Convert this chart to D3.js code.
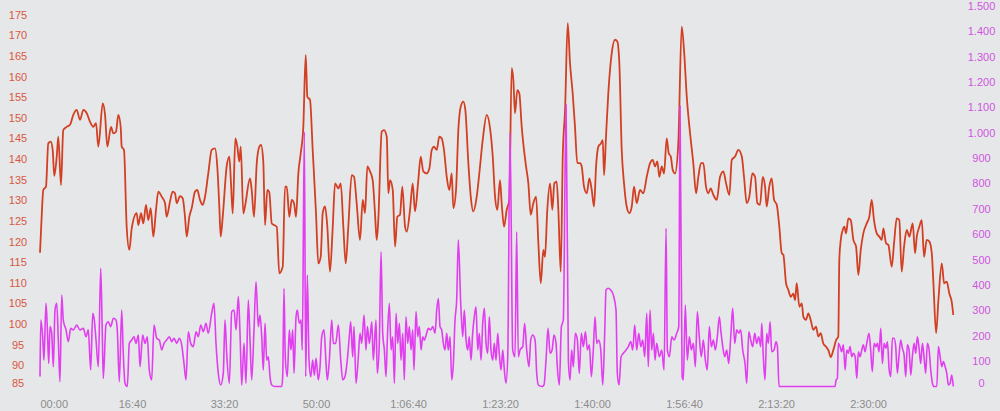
<!DOCTYPE html>
<html>
<head>
<meta charset="utf-8">
<script src="https://cdn.jsdelivr.net/npm/d3@7"></script>
<style>
html,body{margin:0;padding:0;background:#e6e7e9;}
svg{display:block;font-family:"Liberation Sans",Arial,Helvetica,sans-serif;}
</style>
</head>
<body>
<svg id="chart" width="1000" height="411"></svg>
<script>
// Heart rate [seconds, bpm]
const heartRate = [[0,117.3],[18,126],[36,132.5],[65,133.3],[90,143.8],[116,144.2],[138,142.2],[155,135.9],[182,140.6],[199,145.4],[228,133.7],[253,147],[290,147.8],[326,148.3],[362,150.7],[399,151.9],[435,149.5],[471,151.9],[508,151.1],[544,149],[579,147.8],[609,148.7],[634,143],[682,153.5],[707,150.7],[732,143],[772,147.8],[797,146.2],[826,146.6],[851,150.7],[877,147.8],[888,143],[913,142.2],[942,123.6],[971,118],[997,123.2],[1051,126.9],[1069,124],[1098,126.9],[1123,124.4],[1152,128.9],[1177,125.2],[1203,128.1],[1232,121.2],[1261,127.7],[1286,132.1],[1323,130.9],[1359,129.3],[1377,126],[1413,129.7],[1442,132.1],[1467,131.7],[1486,129.3],[1522,131],[1551,130.5],[1576,126],[1595,121.2],[1623,126],[1649,128.1],[1685,132.1],[1710,132.5],[1739,130.1],[1769,128.9],[1794,130.9],[1829,136.5],[1866,142.2],[1902,142.6],[1927,138.2],[1949,128.5],[1964,121.2],[1986,126],[2029,138.2],[2058,140.6],[2076,134.1],[2095,126.8],[2123,145],[2145,143],[2166,139.4],[2182,143],[2210,126.8],[2228,128.5],[2283,135.3],[2301,132.5],[2326,126],[2356,139],[2384,143],[2402,143.4],[2427,139.4],[2446,124],[2471,132.5],[2492,132],[2519,124.4],[2544,124],[2573,123.6],[2601,112.3],[2638,113.9],[2663,133.3],[2682,133.3],[2710,126],[2736,130.1],[2761,129.3],[2783,126],[2808,136.5],[2834,141.4],[2862,147.8],[2888,165.2],[2906,155.1],[2935,154.3],[2964,142.2],[3000,126.9],[3025,114.7],[3051,116.3],[3073,126.9],[3098,128.5],[3123,123.6],[3152,112.7],[3182,123.6],[3207,134.1],[3243,132.9],[3269,134.1],[3297,123.6],[3323,114.7],[3351,123.6],[3388,136.1],[3413,135.7],[3442,129.3],[3478,120.4],[3508,130.1],[3533,126.9],[3558,138.2],[3587,137],[3616,134.9],[3641,126.9],[3660,120.4],[3677,125.2],[3714,146.6],[3739,147],[3769,145.4],[3786,131.7],[3805,134.9],[3834,132.5],[3859,118.8],[3884,126],[3913,126.5],[3938,133.3],[3968,123.6],[3986,122.4],[4022,127.7],[4051,134.1],[4076,127.3],[4112,134.9],[4138,140.6],[4166,137],[4203,136.5],[4232,137.7],[4258,142.2],[4283,143],[4312,142.2],[4340,145.4],[4366,145],[4391,142.2],[4421,135.7],[4449,132.5],[4475,136.5],[4493,128.1],[4522,132.5],[4547,147],[4573,152.7],[4601,153.9],[4623,151.9],[4656,139],[4682,130.9],[4710,127.3],[4747,130.9],[4775,136.5],[4812,144.6],[4856,150.7],[4892,147.4],[4921,140.6],[4946,130.9],[4971,127.7],[5000,134.9],[5019,129],[5044,123.6],[5073,127.7],[5101,130.1],[5127,162],[5145,159.2],[5163,151.1],[5188,156.7],[5210,155.9],[5236,147.8],[5253,143.8],[5283,138.2],[5308,134.1],[5334,126.5],[5362,129.3],[5392,130.9],[5417,119.6],[5443,109.9],[5471,118],[5489,116.3],[5514,127.7],[5544,134.1],[5569,127.7],[5590,134.1],[5616,134.5],[5634,127.7],[5660,112.7],[5682,140.6],[5707,151.9],[5736,172.9],[5761,163.2],[5790,155.9],[5815,147.8],[5840,139],[5870,139],[5888,138.2],[5913,133.3],[5943,131.7],[5971,135.3],[5997,132.5],[6022,128.5],[6044,138.2],[6069,143],[6098,143.8],[6117,144.6],[6131,136.1],[6152,145.4],[6177,155.9],[6214,165.6],[6250,168.9],[6275,168.5],[6297,163.2],[6323,142.2],[6348,134.1],[6377,128.5],[6406,126.9],[6432,128.5],[6457,133.3],[6486,129.3],[6522,132.5],[6558,131.7],[6595,135.7],[6631,139],[6660,139.8],[6685,138.2],[6710,139.4],[6732,135.7],[6758,138.2],[6783,136.5],[6812,145],[6834,141.4],[6856,140.6],[6877,137.4],[6902,136.5],[6938,143.8],[6975,172.1],[7000,166.4],[7030,155.1],[7066,146.2],[7101,139],[7131,131.7],[7156,135.7],[7185,139],[7210,139],[7239,133.3],[7264,131.7],[7290,132.9],[7319,131.3],[7356,130.1],[7392,135.7],[7428,137],[7457,134.1],[7493,131.3],[7519,139.8],[7555,140.6],[7591,142.2],[7628,140.6],[7652,135.7],[7682,129.3],[7710,130.9],[7743,136.5],[7772,135.7],[7797,129.3],[7826,128.9],[7856,135.7],[7881,133.3],[7899,128.5],[7927,133.3],[7953,135.3],[7979,130.1],[8008,128.9],[8036,123.6],[8062,117.2],[8080,116.8],[8109,109.9],[8134,108.3],[8160,106.6],[8188,107.4],[8207,105.8],[8225,109.9],[8254,104.2],[8280,105],[8297,101.8],[8326,101],[8351,102.6],[8377,101],[8406,98.6],[8435,99.4],[8460,97],[8486,97.8],[8514,95.3],[8544,94.5],[8569,93.7],[8595,92],[8623,93.7],[8653,96.1],[8677,97],[8688,115.5],[8704,120.4],[8725,122.8],[8743,123.6],[8761,122],[8786,125.6],[8812,125.2],[8841,120.4],[8870,118.8],[8895,111.9],[8921,118],[8949,122],[8986,124.4],[9014,126],[9040,130.1],[9065,125.2],[9095,122],[9123,121.2],[9149,120.4],[9167,123.2],[9196,119.6],[9221,119.2],[9258,113.9],[9283,119.6],[9312,125.6],[9340,125.2],[9366,112.7],[9392,118.8],[9421,122.8],[9449,121.2],[9486,124.4],[9511,117.2],[9530,121.2],[9558,123.6],[9584,125.2],[9609,116.3],[9638,120.4],[9667,120],[9693,117.2],[9711,109.9],[9740,97.8],[9765,105.8],[9802,114.7],[9827,109.9],[9856,110.3],[9884,107.4],[9910,105.4],[9927,102.2]];

// Power [seconds, watts]
const power = [[0,39],[8,262],[29,196],[43,104],[65,328],[79,236],[95,91],[109,236],[127,210],[145,78],[163,301],[182,328],[199,183],[217,19],[236,360],[253,262],[283,223],[308,177],[334,229],[362,223],[399,242],[435,223],[471,229],[500,196],[525,223],[551,65],[573,288],[590,262],[609,183],[634,78],[660,466],[677,210],[688,32],[717,242],[742,255],[769,236],[797,269],[826,262],[840,223],[862,19],[888,301],[905,131],[924,13],[949,0],[971,170],[997,183],[1022,196],[1044,170],[1069,203],[1087,78],[1116,203],[1141,170],[1166,196],[1188,65],[1214,26],[1239,242],[1269,190],[1297,183],[1323,144],[1348,170],[1377,183],[1406,196],[1432,177],[1457,190],[1486,170],[1514,190],[1540,164],[1565,91],[1587,26],[1612,216],[1638,170],[1666,157],[1696,216],[1721,196],[1747,242],[1775,216],[1804,249],[1829,210],[1866,288],[1891,328],[1913,170],[1938,52],[1964,6],[1992,52],[2011,262],[2029,131],[2058,13],[2084,295],[2109,301],[2131,223],[2156,354],[2174,210],[2193,6],[2217,170],[2239,13],[2264,341],[2283,183],[2301,26],[2326,223],[2348,413],[2373,236],[2391,282],[2410,196],[2427,65],[2446,249],[2464,104],[2482,117],[2500,39],[2519,6],[2554,0],[2627,0],[2638,39],[2652,387],[2666,117],[2688,39],[2710,223],[2728,144],[2747,223],[2761,52],[2783,275],[2797,301],[2818,249],[2837,262],[2851,144],[2873,1004],[2888,39],[2906,439],[2924,104],[2943,39],[2964,104],[2982,45],[3000,111],[3025,26],[3044,78],[3062,196],[3087,223],[3109,91],[3123,26],[3145,104],[3171,262],[3188,170],[3214,170],[3243,242],[3269,104],[3290,26],[3315,39],[3340,104],[3362,196],[3377,255],[3399,117],[3413,236],[3435,13],[3460,117],[3478,210],[3497,170],[3522,282],[3543,144],[3558,236],[3580,170],[3606,255],[3623,104],[3652,262],[3666,52],[3688,170],[3707,531],[3725,210],[3743,144],[3761,39],[3775,183],[3797,328],[3816,144],[3834,196],[3852,13],[3870,288],[3889,170],[3906,249],[3924,104],[3943,210],[3960,26],[3978,275],[3997,170],[4014,236],[4033,144],[4051,223],[4065,65],[4087,295],[4106,196],[4123,236],[4142,144],[4160,196],[4177,183],[4203,210],[4221,229],[4247,223],[4269,236],[4294,210],[4312,301],[4330,347],[4348,236],[4366,223],[4384,170],[4402,144],[4421,210],[4438,144],[4457,196],[4475,26],[4493,91],[4511,262],[4529,341],[4547,577],[4573,328],[4595,196],[4612,301],[4631,183],[4649,144],[4666,196],[4685,104],[4703,210],[4721,275],[4739,314],[4758,144],[4775,210],[4794,104],[4812,249],[4830,308],[4848,170],[4866,131],[4884,275],[4902,144],[4921,104],[4938,170],[4957,104],[4975,210],[4992,131],[5011,65],[5030,144],[5047,65],[5065,13],[5084,117],[5109,1000],[5138,144],[5163,117],[5181,610],[5199,117],[5218,144],[5247,157],[5268,249],[5290,144],[5315,78],[5334,183],[5355,203],[5381,183],[5399,52],[5417,6],[5454,0],[5478,6],[5500,104],[5522,229],[5544,131],[5566,144],[5587,203],[5609,170],[5623,78],[5645,6],[5667,236],[5688,262],[5718,1110],[5743,104],[5761,26],[5779,144],[5797,78],[5819,210],[5841,183],[5862,52],[5884,210],[5906,157],[5928,216],[5950,144],[5971,164],[5993,39],[6014,144],[6033,275],[6051,170],[6073,183],[6095,144],[6117,6],[6138,210],[6152,380],[6177,387],[6203,380],[6232,360],[6261,301],[6275,52],[6294,6],[6316,117],[6341,131],[6370,144],[6395,157],[6421,177],[6443,144],[6464,242],[6486,144],[6508,210],[6530,157],[6551,183],[6573,117],[6595,288],[6612,78],[6631,301],[6649,144],[6667,210],[6685,104],[6703,170],[6732,117],[6758,144],[6783,65],[6805,623],[6819,144],[6841,117],[6867,196],[6892,183],[6921,210],[6943,236],[6957,1105],[6979,39],[6993,26],[7014,321],[7036,104],[7058,196],[7080,144],[7101,170],[7123,78],[7145,295],[7166,196],[7188,117],[7210,183],[7232,104],[7253,65],[7275,236],[7297,157],[7319,183],[7340,144],[7362,196],[7384,275],[7403,210],[7421,157],[7443,117],[7464,144],[7486,91],[7508,196],[7529,308],[7551,170],[7573,223],[7595,210],[7616,223],[7638,144],[7663,91],[7682,13],[7704,216],[7725,183],[7747,157],[7769,210],[7790,170],[7812,196],[7834,157],[7845,249],[7862,118],[7880,26],[7899,210],[7916,170],[7936,255],[7953,137],[7979,144],[8000,176],[8015,157],[8033,0],[8642,0],[8653,26],[8667,32],[8677,170],[8696,157],[8714,137],[8732,164],[8751,65],[8769,144],[8786,131],[8805,157],[8823,117],[8841,131],[8860,117],[8878,32],[8895,137],[8914,117],[8932,144],[8949,164],[8968,137],[8986,170],[9011,210],[9029,144],[9047,58],[9066,170],[9085,157],[9102,170],[9120,137],[9139,229],[9156,91],[9175,170],[9194,151],[9211,176],[9230,65],[9247,39],[9265,190],[9283,190],[9301,157],[9319,52],[9336,117],[9355,183],[9373,151],[9392,124],[9410,39],[9428,164],[9446,144],[9465,45],[9482,117],[9501,170],[9519,131],[9536,196],[9555,151],[9573,91],[9591,170],[9609,117],[9627,52],[9645,170],[9664,144],[9682,65],[9700,13],[9718,0],[9748,0],[9765,157],[9784,117],[9802,78],[9819,98],[9838,78],[9856,52],[9874,6],[9893,13],[9910,45],[9927,0]];

const hrTicks = [85,90,95,100,105,110,115,120,125,130,135,140,145,150,155,160,165,170,175];
const powerTicks = [0,100,200,300,400,500,600,700,800,900,1000,1100,1200,1300,1400,1500];
const timeTicks = [0,1000,2000,3000,4000,5000,6000,7000,8000,9000];

const svg = d3.select("#chart");
const bg = "#e6e7e9";
svg.append("rect").attr("width",1000).attr("height",411).attr("fill",bg);

const x = d3.scaleLinear().domain([0, 9927]).range([40, 953.3]);
const yHr = d3.scaleLinear().domain([85, 175]).range([386, 14.6]);
const yPw = d3.scaleLinear().domain([0, 1500]).range([386.5, 5.8]);

const locale = d3.formatLocale({decimal:",", thousands:".", grouping:[3], currency:["",""]});
const fmtPw = locale.format(",");
function fmtTime(s){
  const h = Math.floor(s/3600), m = Math.floor((s%3600)/60), sec = Math.round(s%60);
  const p = v => String(v).padStart(2,"0");
  return h > 0 ? h + ":" + p(m) + ":" + p(sec) : p(m) + ":" + p(sec);
}

// left axis
const gL = svg.append("g").attr("transform","translate(18,0)")
  .call(d3.axisLeft(yHr).tickValues(hrTicks).tickSize(0).tickPadding(0));
gL.select(".domain").remove();
gL.selectAll("text").attr("x",0).attr("text-anchor","middle")
  .attr("fill","#d8573f").style("font-size","11px")
  .attr("y", d => d === 85 ? -3.5 : 0);

// right axis
const gR = svg.append("g").attr("transform","translate(981.5,0)")
  .call(d3.axisRight(yPw).tickValues(powerTicks).tickFormat(fmtPw).tickSize(0).tickPadding(0));
gR.select(".domain").remove();
gR.selectAll("text").attr("x",0).attr("text-anchor","middle")
  .attr("fill","#cf55e0").style("font-size","11px")
  .attr("y", d => d === 0 ? -3.5 : 0);

// bottom axis
const gB = svg.append("g").attr("transform","translate(0,400)")
  .call(d3.axisBottom(x).tickValues(timeTicks).tickFormat(fmtTime).tickSize(0).tickPadding(0));
gB.select(".domain").remove();
gB.selectAll("text").attr("fill","#8c8c8c").style("font-size","11px")
  .attr("text-anchor", d => d === 0 ? "start" : "middle");

// lines
const hrLine = d3.line().x(d => x(d[0])).y(d => yHr(d[1])).curve(d3.curveMonotoneX);
const pwLine = d3.line().x(d => x(d[0])).y(d => yPw(d[1])).curve(d3.curveMonotoneX);

svg.append("path").datum(heartRate).attr("d", hrLine)
  .attr("fill","none").attr("stroke","#d23f22").attr("stroke-width",1.8)
  .attr("stroke-linejoin","round");
svg.append("path").datum(power).attr("d", pwLine)
  .attr("fill","none").attr("stroke","#e13ef0").attr("stroke-width",1.6)
  .attr("stroke-linejoin","round");
</script>
</body>
</html>
